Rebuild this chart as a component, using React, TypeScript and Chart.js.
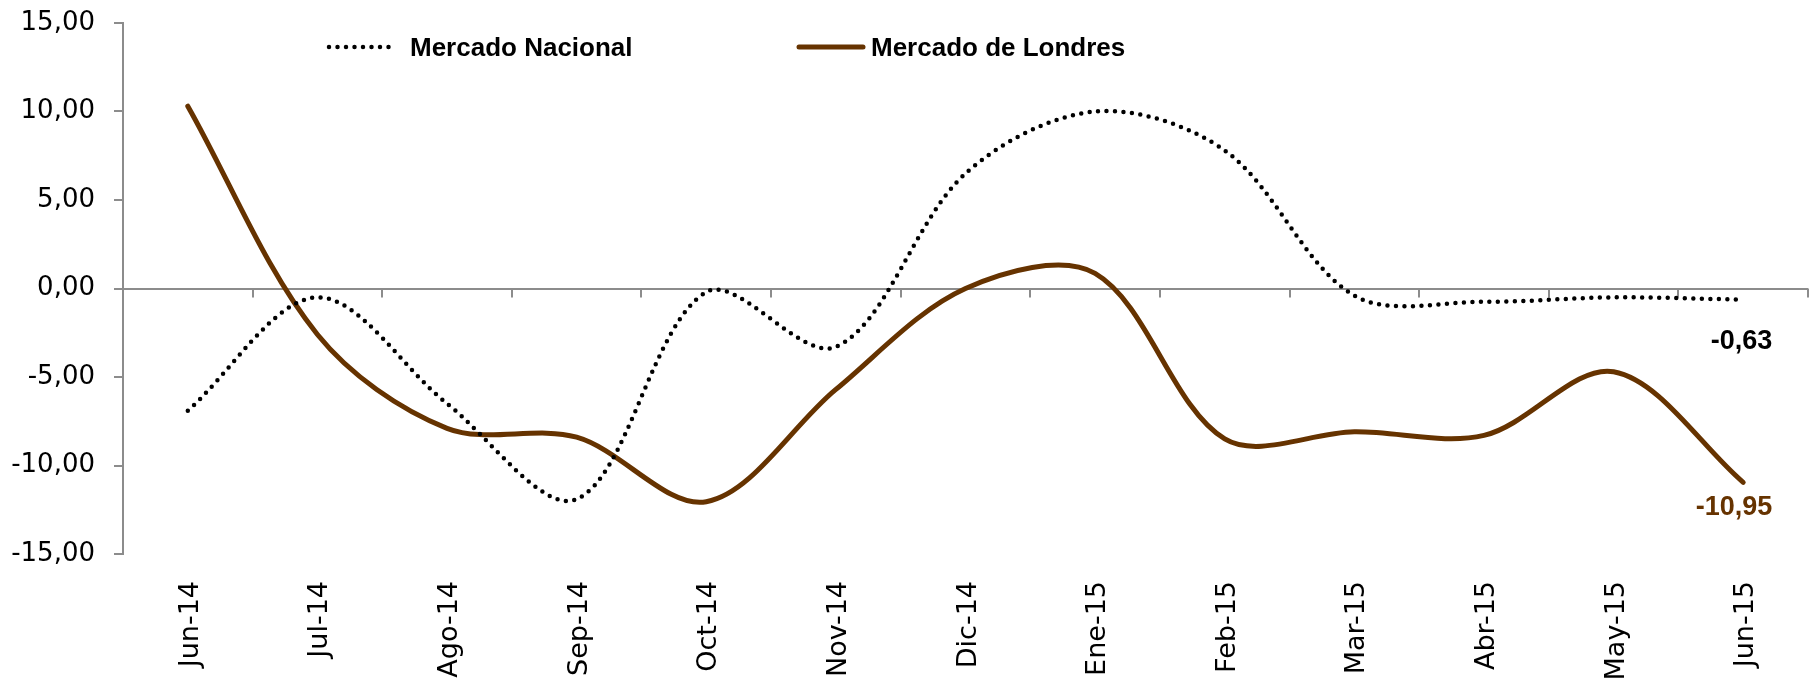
import React, { useEffect, useRef } from 'react';
import { Chart, registerables } from 'chart.js';
Chart.register(...registerables);

const categories = ['Jun-14', 'Jul-14', 'Ago-14', 'Sep-14', 'Oct-14', 'Nov-14', 'Dic-14', 'Ene-15', 'Feb-15', 'Mar-15', 'Abr-15', 'May-15', 'Jun-15'];
const mercadoNacional = [-6.9, -0.5, -6.5, -11.9, -0.2, -3.3, 6.5, 10.0, 7.8, -0.4, -0.75, -0.5, -0.63];
const mercadoLondres = [10.3, -2.6, -7.9, -8.4, -12.05, -5.7, 0.0, 0.85, -8.5, -8.1, -8.3, -4.7, -10.95];
const seriesNames = ['Mercado Nacional', 'Mercado de Londres'];
const lastLabels = ['-0,63', '-10,95'];
const yMin = -15;
const yMax = 15;
const yStep = 5;

const BROWN = '#663300';
const AXIS_GRAY = '#8c8c8c';
const LABEL_FONT = '"Liberation Sans", Arial, sans-serif';

export default function App() {
  const ref = useRef<HTMLCanvasElement>(null);

  useEffect(() => {
    document.body.style.margin = '0';
    const canvas = ref.current;
    if (!canvas) return;

    const zeroTicks = {
      id: 'zeroTicks',
      beforeDatasetsDraw(chart: any) {
        const ctx = chart.ctx;
        const xs = chart.scales.x;
        const ys = chart.scales.y;
        const y0 = ys.getPixelForValue(0);
        const n = categories.length;
        const w = (xs.right - xs.left) / n;
        ctx.save();
        ctx.strokeStyle = AXIS_GRAY;
        ctx.lineWidth = 2;
        for (let i = 1; i <= n; i++) {
          const x = Math.round(xs.getPixelForValue(i - 1) + w / 2);
          ctx.beginPath();
          ctx.moveTo(x, y0);
          ctx.lineTo(x, y0 + 9);
          ctx.stroke();
        }
        ctx.restore();
      },
    };

    const legendAndLabels = {
      id: 'legendAndLabels',
      afterDatasetsDraw(chart: any) {
        const ctx = chart.ctx;
        const ca = chart.chartArea;
        const ly = ca.top + 24;
        ctx.save();
        // Legend: dotted sample
        ctx.strokeStyle = '#000';
        ctx.lineWidth = 4.5;
        ctx.lineCap = 'round';
        ctx.setLineDash([0, 8.5]);
        ctx.beginPath();
        ctx.moveTo(ca.left + 206, ly);
        ctx.lineTo(ca.left + 272, ly);
        ctx.stroke();
        ctx.setLineDash([]);
        // Legend: solid sample
        ctx.strokeStyle = BROWN;
        ctx.lineWidth = 5;
        ctx.beginPath();
        ctx.moveTo(ca.left + 676, ly);
        ctx.lineTo(ca.left + 740, ly);
        ctx.stroke();
        ctx.fillStyle = '#000';
        ctx.font = 'bold 26px ' + LABEL_FONT;
        ctx.textAlign = 'left';
        ctx.textBaseline = 'alphabetic';
        ctx.fillText(seriesNames[0], ca.left + 287, ly + 9);
        ctx.fillText(seriesNames[1], ca.left + 748, ly + 9);

        // End data labels
        const m0 = chart.getDatasetMeta(0).data;
        const m1 = chart.getDatasetMeta(1).data;
        const p0 = m0[m0.length - 1];
        const p1 = m1[m1.length - 1];
        ctx.font = 'bold 27px ' + LABEL_FONT;
        ctx.textAlign = 'right';
        ctx.fillStyle = '#000';
        ctx.fillText(lastLabels[0], p0.x + 29, p0.y + 49);
        ctx.fillStyle = BROWN;
        ctx.fillText(lastLabels[1], p1.x + 29, p1.y + 33);
        ctx.restore();
      },
    };

    const chart = new Chart(canvas, {
      type: 'line',
      data: {
        labels: categories,
        datasets: [
          {
            label: seriesNames[0],
            data: mercadoNacional,
            borderColor: '#000',
            borderWidth: 4.5,
            borderDash: [0, 8.5],
            borderCapStyle: 'round',
            pointRadius: 0,
            tension: 0.33,
            fill: false,
          },
          {
            label: seriesNames[1],
            data: mercadoLondres,
            borderColor: BROWN,
            borderWidth: 5,
            borderCapStyle: 'round',
            borderJoinStyle: 'round',
            pointRadius: 0,
            tension: 0.33,
            fill: false,
          },
        ],
      },
      options: {
        responsive: false,
        animation: false,
        devicePixelRatio: 1,
        layout: { padding: { top: 23, right: 2, left: 0, bottom: 0 } },
        plugins: {
          legend: { display: false },
          tooltip: { enabled: false },
          title: { display: false },
        },
        scales: {
          x: {
            type: 'category',
            offset: true,
            grid: { display: false, drawTicks: false },
            border: { display: false },
            ticks: {
              autoSkip: false,
              minRotation: 90,
              maxRotation: 90,
              padding: 27,
              labelOffset: 3,
              color: '#000',
              font: { family: '"DejaVu Sans", sans-serif', size: 27 },
            },
            afterFit(scale: any) {
              scale.height = 129;
            },
          },
          y: {
            min: yMin,
            max: yMax,
            ticks: {
              stepSize: yStep,
              padding: 19,
              color: '#000',
              font: { family: '"DejaVu Sans", sans-serif', size: 26 },
              callback: (v: any) => Number(v).toFixed(2).replace('.', ','),
            },
            grid: {
              drawOnChartArea: true,
              drawTicks: true,
              tickLength: 9,
              lineWidth: 2,
              color: (c: any) => (c.tick && c.tick.value === 0 ? AXIS_GRAY : 'rgba(0,0,0,0)'),
              tickColor: AXIS_GRAY,
            },
            border: { display: true, color: AXIS_GRAY, width: 2 },
            afterFit(scale: any) {
              scale.width = 123;
              scale.paddingTop = 0;
              scale.paddingBottom = 0;
            },
          },
        },
      },
      plugins: [zeroTicks, legendAndLabels],
    } as any);

    return () => chart.destroy();
  }, []);

  return (
    <div style={{ width: 1810, height: 683, position: 'relative' }}>
      <canvas ref={ref} width={1810} height={683} style={{ display: 'block', width: 1810, height: 683 }} />
    </div>
  );
}
